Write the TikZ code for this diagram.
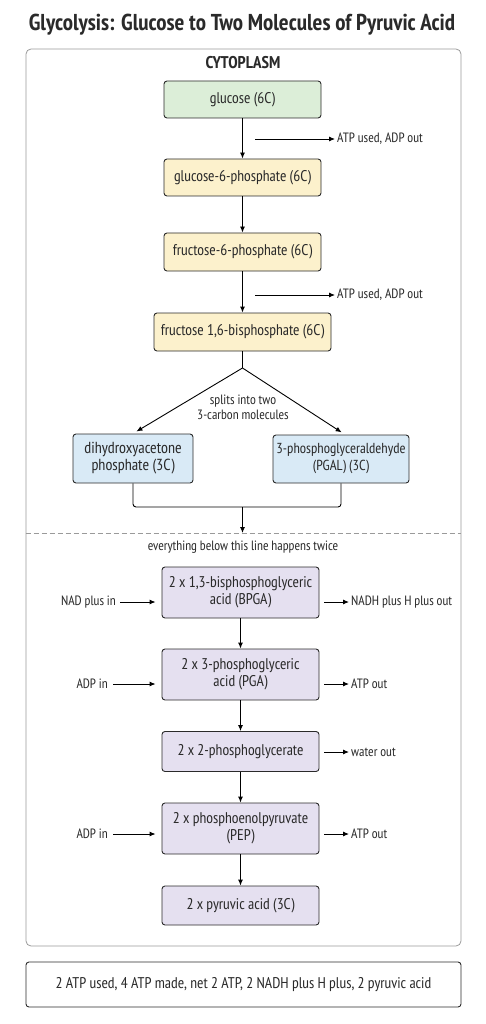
\documentclass[tikz,border=0pt]{standalone}
\usepackage{fontspec}
\setmainfont{PT Sans Narrow}
\usetikzlibrary{arrows.meta}

\definecolor{glcgreen}{HTML}{DCEED8}
\definecolor{hexyellow}{HTML}{FCF1CC}
\definecolor{trioseblue}{HTML}{D9EAF6}
\definecolor{twicepurple}{HTML}{E5E0F0}
\definecolor{framegray}{HTML}{9A9A9A}
\definecolor{inkgray}{HTML}{2A2A2A}

\begin{document}
\begin{tikzpicture}[
    x=1pt, y=-1pt,
    every node/.style = {font=\fontsize{15.5}{17}\selectfont, text=inkgray},
    molbox/.style     = {draw=inkgray, line width=0.9pt, rounded corners=3pt,
                         minimum width=157pt, align=center, inner sep=2pt},
    sidelabel/.style  = {font=\fontsize{13.5}{15}\selectfont, inner sep=2pt},
    flow/.style       = {draw=black, line width=0.9pt, -{Latex[length=6pt,width=5pt]}},
]
\useasboundingbox (0,0) rectangle (486,1024);

% title and frames
\node (title) at (242,25) {\fontsize{23}{25}\selectfont\bfseries Glycolysis: Glucose to Two Molecules of Pyruvic Acid};
\node [draw=framegray, line width=0.8pt, rounded corners=5pt,
       minimum width=435pt, minimum height=897pt] (frame) at (243.5,497.5) {};
\node (cyto) at (243,63) {\fontsize{17}{18}\selectfont\bfseries CYTOPLASM};

% six-carbon part
\node [molbox, fill=glcgreen,   minimum height=37pt] (glc) at (242.5,99.5)  {glucose (6C)};
\node [molbox, fill=hexyellow,  minimum height=37pt] (g6p) at (242.5,177.5) {glucose-6-phosphate (6C)};
\node [molbox, fill=hexyellow,  minimum height=38pt] (f6p) at (242.5,252)   {fructose-6-phosphate (6C)};
\node [molbox, fill=hexyellow,  minimum height=38pt, minimum width=177pt] (fbp) at (242.5,332) {fructose 1,6-bisphosphate (6C)};

\node [sidelabel, anchor=west] (atpa) at (335,139) {ATP used, ADP out};
\node [sidelabel, anchor=west] (atpb) at (335,295) {ATP used, ADP out};
\coordinate (atpas) at (255,139);
\coordinate (atpbs) at (255,295);

\draw [flow] (glc) -- (g6p);
\draw [flow] (g6p) -- (f6p);
\draw [flow] (f6p) -- (fbp);
\draw [flow] (atpas) -- (atpa.west);
\draw [flow] (atpbs) -- (atpb.west);

% split into trioses
\coordinate (split) at (242.5,368);
\node [molbox, fill=trioseblue, minimum width=120pt, minimum height=49pt,
       font=\fontsize{16}{17}\selectfont] (dhap) at (133,458.5) {dihydroxyacetone\\phosphate (3C)};
\node [molbox, fill=trioseblue, minimum width=136pt, minimum height=48pt,
       font=\fontsize{14.5}{17}\selectfont] (pgal) at (341,459) {3-phosphoglyceraldehyde\\(PGAL) (3C)};
\node [sidelabel, align=center] (splitlbl) at (243,407) {splits into two\\3-carbon molecules};

\draw [line width=0.9pt] (fbp) -- (split);
\draw [flow, shorten >=4pt] (split) -- (dhap.north);
\draw [flow, shorten >=4pt] (split) -- ([xshift=4pt]pgal.north);

\coordinate (join) at (242.5,507);
\coordinate (cut) at (242.5,533);
\draw [line width=0.9pt, rounded corners=3pt] (dhap.south) -- (dhap.south |- join) -- (pgal.south |- join) -- (pgal.south);
\draw [flow] (join) -- (cut);
\draw [framegray, line width=0.8pt, dash pattern=on 5pt off 3pt] (frame.west |- cut) -- (frame.east |- cut);
\node [sidelabel] (twice) at (243,547) {everything below this line happens twice};

% three-carbon part, times two
\node [molbox, fill=twicepurple, minimum height=51pt] (bpga) at (240.5,592.5) {2 x 1,3-bisphosphoglyceric\\acid (BPGA)};
\node [molbox, fill=twicepurple, minimum height=51pt] (pga)  at (240.5,674.5) {2 x 3-phosphoglyceric\\acid (PGA)};
\node [molbox, fill=twicepurple, minimum height=40pt] (pgtwo) at (240.5,751.5) {2 x 2-phosphoglycerate};
\node [molbox, fill=twicepurple, minimum height=51pt] (pep)  at (240.5,828.5) {2 x phosphoenolpyruvate\\(PEP)};
\node [molbox, fill=twicepurple, minimum height=39pt] (pyr)  at (240.5,905.5) {2 x pyruvic acid (3C)};

\draw [flow] (bpga) -- (pga);
\draw [flow] (pga) -- (pgtwo);
\draw [flow] (pgtwo) -- (pep);
\draw [flow] (pep) -- (pyr);

\node [sidelabel, anchor=east] (nadin)  at (118,602) {NAD plus in};
\node [sidelabel, anchor=east] (adpina) at (110,684) {ADP in};
\node [sidelabel, anchor=east] (adpinb) at (110,834) {ADP in};
\node [sidelabel, anchor=west] (nadhout) at (349,602) {NADH plus H plus out};
\node [sidelabel, anchor=west] (atpouta) at (349,684) {ATP out};
\node [sidelabel, anchor=west] (waterout) at (349,752) {water out};
\node [sidelabel, anchor=west] (atpoutb) at (349,834) {ATP out};

\draw [flow, shorten <=2pt, shorten >=6pt] (nadin.east) -- (nadin.east -| bpga.west);
\draw [flow, shorten <=3pt, shorten >=6pt] (adpina.east) -- (adpina.east -| pga.west);
\draw [flow, shorten <=3pt, shorten >=6pt] (adpinb.east) -- (adpinb.east -| pep.west);
\draw [flow, shorten <=5pt] (nadhout.west -| bpga.east) -- (nadhout.west);
\draw [flow, shorten <=5pt] (atpouta.west -| pga.east) -- (atpouta.west);
\draw [flow, shorten <=5pt] (waterout.west -| pgtwo.east) -- (waterout.west);
\draw [flow, shorten <=5pt] (atpoutb.west -| pep.east) -- (atpoutb.west);

% summary
\node [draw=inkgray, line width=0.9pt, rounded corners=3pt,
       minimum width=435pt, minimum height=45pt] (summary) at (243.5,984.5)
      {2 ATP used, 4 ATP made, net 2 ATP, 2 NADH plus H plus, 2 pyruvic acid};
\end{tikzpicture}
\end{document}
